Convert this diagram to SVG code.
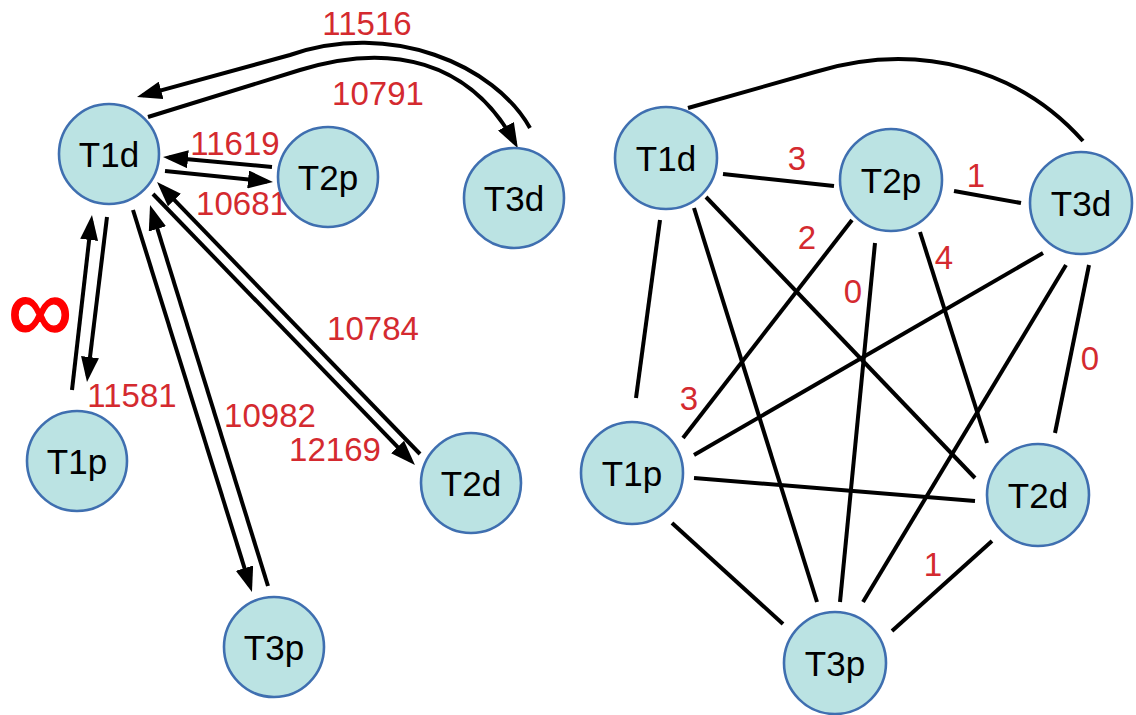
<svg xmlns="http://www.w3.org/2000/svg" width="1136" height="715" viewBox="0 0 1136 715">
<defs>
<style>
.node circle{fill:#bbe3e3;stroke:#3f6fb0;stroke-width:2.6}
.node text{font-family:"Liberation Sans",Arial,sans-serif;font-size:35px;fill:#000;text-anchor:middle}
.lbl{font-family:"Liberation Sans",Arial,sans-serif;font-size:33px;fill:#d42a2f;text-anchor:middle}
.inf{font-family:"Liberation Sans",Arial,sans-serif;font-size:90px;fill:#f00;stroke:#f00;stroke-width:1.5;text-anchor:middle}
.edges path,.edges line{stroke:#000;stroke-width:4;fill:none}
.arr{marker-end:url(#ah)}
</style>
<marker id="ah" markerUnits="userSpaceOnUse" markerWidth="25" markerHeight="18" refX="19" refY="9" orient="auto" viewBox="0 0 25 18">
<path d="M0,0 L25,9 L0,18 z" fill="#000"/>
</marker>
</defs>
<rect width="1136" height="715" fill="#fff"/>
<g class="edges" id="left-edges">
<path class="arr" d="M530,128 C495,65 390,20 290,55 L142.8,95.4"/>
<path class="arr" d="M148,117 L300,70 C390,42 470,60 515,143"/>
<line class="arr" x1="272" y1="167" x2="169" y2="157.5"/>
<line class="arr" x1="165" y1="171" x2="267" y2="181.4"/>
<line class="arr" x1="72" y1="390" x2="91.3" y2="221"/>
<line class="arr" x1="107" y1="217" x2="87.7" y2="376"/>
<line class="arr" x1="133" y1="210" x2="250.2" y2="586.3"/>
<line class="arr" x1="268" y1="586" x2="151.8" y2="210.7"/>
<line class="arr" x1="420" y1="454" x2="161.2" y2="186.3"/>
<line class="arr" x1="153" y1="194" x2="410.8" y2="460.7"/>
</g>
<g class="edges" id="right-edges">
<path d="M688,108 L815,72 C920,40 1020,70 1083,141"/>
<line x1="723" y1="174" x2="834" y2="186"/>
<line x1="954" y1="191" x2="1021" y2="203"/>
<line x1="660" y1="220" x2="636" y2="398"/>
<line x1="694" y1="208" x2="817" y2="602"/>
<line x1="706" y1="197" x2="975" y2="478"/>
<line x1="852" y1="220" x2="683" y2="438"/>
<line x1="875" y1="243" x2="840" y2="602"/>
<line x1="920" y1="232" x2="987" y2="443"/>
<line x1="1043" y1="253" x2="694" y2="455"/>
<line x1="1066" y1="265" x2="863" y2="602"/>
<line x1="1089" y1="265" x2="1055" y2="433"/>
<line x1="694" y1="478" x2="975" y2="501"/>
<line x1="672" y1="523" x2="783" y2="624"/>
<line x1="992" y1="541" x2="892" y2="631"/>
</g>
<g id="left-labels">
<text class="lbl" x="367" y="35">11516</text>
<text class="lbl" x="378" y="105">10791</text>
<text class="lbl" x="235" y="155">11619</text>
<text class="lbl" x="242" y="215">10681</text>
<text class="lbl" x="132" y="407">11581</text>
<text class="lbl" x="373" y="340">10784</text>
<text class="lbl" x="270" y="427">10982</text>
<text class="lbl" x="335" y="461">12169</text>
<text class="inf" x="40" y="341">∞</text>
</g>
<g id="right-labels">
<text class="lbl" x="797" y="170">3</text>
<text class="lbl" x="976" y="187">1</text>
<text class="lbl" x="807" y="249">2</text>
<text class="lbl" x="853" y="303">0</text>
<text class="lbl" x="944" y="269">4</text>
<text class="lbl" x="1090" y="370">0</text>
<text class="lbl" x="689" y="410">3</text>
<text class="lbl" x="933" y="576">1</text>
</g>
<g id="L-T1d" class="node"><circle cx="109" cy="154" r="50"/><text x="109" y="166.5">T1d</text></g>
<g id="L-T2p" class="node"><circle cx="328" cy="177" r="50"/><text x="328" y="189.5">T2p</text></g>
<g id="L-T3d" class="node"><circle cx="514" cy="198" r="50"/><text x="514" y="210.5">T3d</text></g>
<g id="L-T1p" class="node"><circle cx="77" cy="461" r="50"/><text x="77" y="473.5">T1p</text></g>
<g id="L-T2d" class="node"><circle cx="471" cy="483" r="50"/><text x="471" y="495.5">T2d</text></g>
<g id="L-T3p" class="node"><circle cx="274" cy="647" r="50"/><text x="274" y="659.5">T3p</text></g>
<g id="R-T1d" class="node"><circle cx="666" cy="158" r="51"/><text x="666" y="170.5">T1d</text></g>
<g id="R-T2p" class="node"><circle cx="891" cy="180" r="51"/><text x="891" y="192.5">T2p</text></g>
<g id="R-T3d" class="node"><circle cx="1081" cy="203" r="51"/><text x="1081" y="215.5">T3d</text></g>
<g id="R-T1p" class="node"><circle cx="632" cy="473" r="51"/><text x="632" y="485.5">T1p</text></g>
<g id="R-T2d" class="node"><circle cx="1038" cy="495" r="51"/><text x="1038" y="507.5">T2d</text></g>
<g id="R-T3p" class="node"><circle cx="835" cy="663" r="51"/><text x="835" y="675.5">T3p</text></g>
</svg>
